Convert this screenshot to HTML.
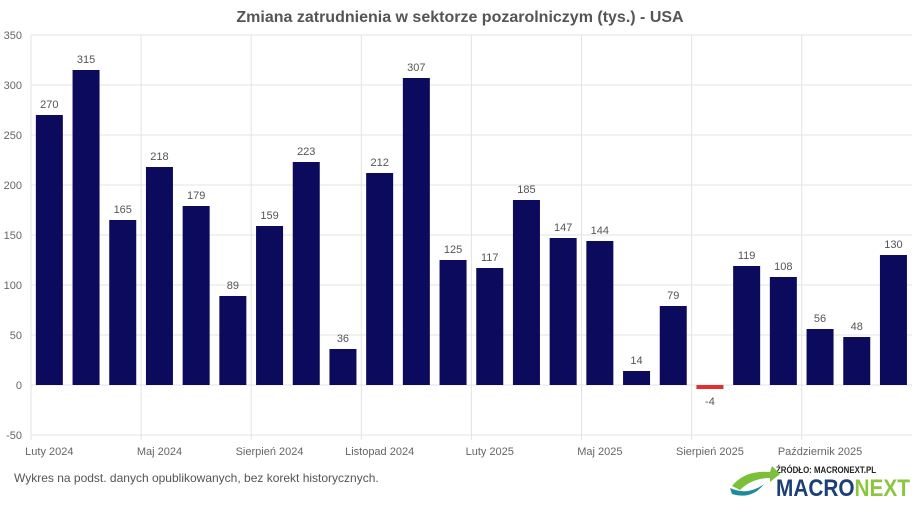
<!DOCTYPE html>
<html><head><meta charset="utf-8"><style>body{margin:0;background:#fff}</style></head><body>
<svg width="920" height="508" xmlns="http://www.w3.org/2000/svg" font-family="Liberation Sans, sans-serif">
<text x="460" y="22" text-anchor="middle" font-size="16" font-weight="bold" fill="#555">Zmiana zatrudnienia w sektorze pozarolniczym (tys.) - USA</text>
<g id="grid" stroke="#e3e3e3" stroke-width="1"></g>
<g id="bars"></g>
<text x="14" y="482" font-size="12" fill="#555">Wykres na podst. danych opublikowanych, bez korekt historycznych.</text>
<text x="776" y="473" font-size="9" font-weight="bold" fill="#222" textLength="100" lengthAdjust="spacingAndGlyphs">ŹRÓDŁO: MACRONEXT.PL</text>
<text x="776" y="496" font-size="24" font-weight="bold" fill="#1c3f77" textLength="134" lengthAdjust="spacingAndGlyphs">MACRO<tspan fill="#8cc63f">NEXT</tspan></text>
<path d="M732 486 Q745 470 770 472 L772 466 L780 474 L770 482 L770 478 Q752 478 740 490 Z" fill="#7bbf3a"/>
<path d="M730 488 Q748 496 764 484 Q752 500 732 494 Z" fill="#1f8a9a"/>
</svg>
<script>
const v=[270,315,165,218,179,89,159,223,36,212,307,125,117,185,147,144,14,79,-4,119,108,56,48,130];
const ns="http://www.w3.org/2000/svg",g=document.getElementById('grid'),b=document.getElementById('bars');
function el(p,t,a,txt){const e=document.createElementNS(ns,t);for(const k in a)e.setAttribute(k,a[k]);if(txt!==undefined)e.textContent=txt;p.appendChild(e);return e}
const L=31,W=36.7,Z=385;
for(let y=-50;y<=350;y+=50){const py=Z-y;el(g,'line',{x1:L,x2:912,y1:py,y2:py});el(b,'text',{x:22,y:py+4,'text-anchor':'end','font-size':11,fill:'#666'},y)}
const labs=['Luty 2024','Maj 2024','Sierpień 2024','Listopad 2024','Luty 2025','Maj 2025','Sierpień 2025','Październik 2025'];
for(let i=0;i<8;i++){const x=L+i*3*W;el(g,'line',{x1:x,x2:x,y1:35,y2:440});el(b,'text',{x:L+W*(i*3+0.5),y:455,'text-anchor':'middle','font-size':11,fill:'#666'},labs[i])}
v.forEach((d,i)=>{const c=L+W*(i+0.5);const neg=d<0;
el(b,'rect',{x:c-13.5,y:neg?Z:Z-d,width:27,height:neg?4:d,fill:neg?'#e03030':'#0c0a5c'});
el(b,'text',{x:c,y:neg?Z+20:Z-d-7,'text-anchor':'middle','font-size':11,fill:'#555'},d)});
</script>
</body></html>
